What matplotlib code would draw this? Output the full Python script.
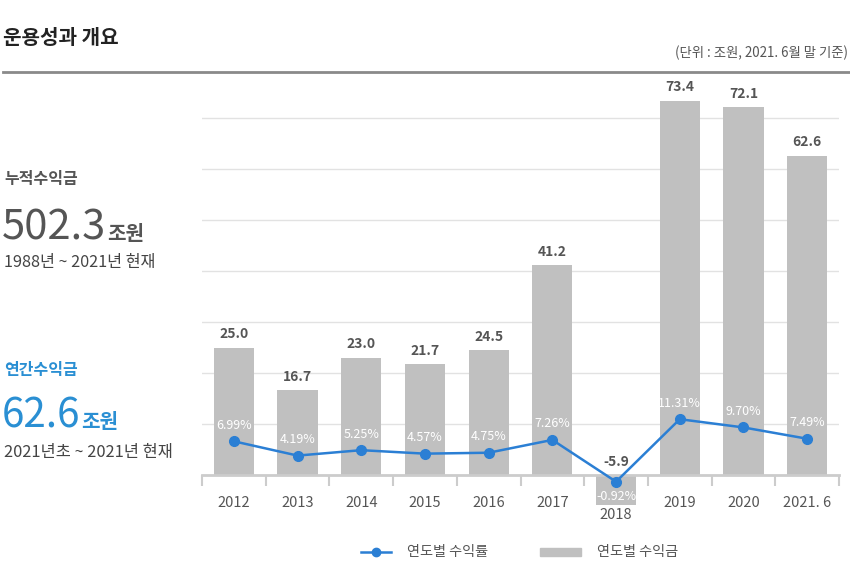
import matplotlib
matplotlib.use('Agg')
import matplotlib.pyplot as plt
from matplotlib.lines import Line2D
from matplotlib.patches import Rectangle
import numpy as np

plt.rcParams['font.family'] = ['Noto Sans CJK KR', 'DejaVu Sans']

years = ['2012', '2013', '2014', '2015', '2016', '2017', '2018', '2019', '2020', '2021. 6']
profits = [25.0, 16.7, 23.0, 21.7, 24.5, 41.2, -5.9, 73.4, 72.1, 62.6]
rates = [6.99, 4.19, 5.25, 4.57, 4.75, 7.26, -0.92, 11.31, 9.70, 7.49]
profit_labels = ['25.0', '16.7', '23.0', '21.7', '24.5', '41.2', '-5.9', '73.4', '72.1', '62.6']
rate_labels = ['6.99%', '4.19%', '5.25%', '4.57%', '4.75%', '7.26%', '-0.92%', '11.31%', '9.70%', '7.49%']

W, H = 850, 579
fig = plt.figure(figsize=(W / 100, H / 100), dpi=100)
fig.patch.set_facecolor('white')


def fx(px):
    return px / W


def fy(py):
    return 1 - py / H


BLUE = '#2b7fd4'
BLUE_TXT = '#2a8fd3'
GRAY_TXT = '#555555'

# ---- main axes ----
ax = fig.add_axes([fx(202), fy(510), (839 - 202) / W, (510 - 80) / H])
x = np.arange(len(years))
ax.bar(x, profits, width=0.63, color='#c0c0c0', zorder=2)
ax.set_xlim(-0.5, len(years) - 0.5)
ax.set_ylim(-(510 - 475) / 5.1, (475 - 80) / 5.1)

# ---- rate line on twin axis ----
ax2 = ax.twinx()
ax2.set_ylim(-(510 - 477) / 5.11, (477 - 80) / 5.11)
ax2.axis('off')

for s in ['top', 'right', 'left']:
    ax.spines[s].set_visible(False)
ax.spines['bottom'].set_position(('data', 0))
ax.spines['bottom'].set_color('#cccccc')
ax.spines['bottom'].set_linewidth(2)
ax.set_yticks(np.arange(10, 80, 10))
ax.yaxis.grid(True, color='#e2e2e2', lw=1)
ax.set_axisbelow(True)
ax.tick_params(axis='y', which='both', left=False, right=False, labelleft=False, labelright=False)
ax.set_xticks(x)
ax.tick_params(axis='x', which='major', length=0, labelbottom=False)
ax.set_xticks(np.arange(-0.5, len(years)), minor=True)
ax.tick_params(axis='x', which='minor', length=8, width=1.5, color='#cccccc', direction='out')

for xi, v, lab in zip(x, profits, profit_labels):
    ax.annotate(lab, (xi, max(v, 0)), xytext=(0, 4.5), textcoords='offset points',
                ha='center', va='bottom', fontsize=10, fontweight='bold', color=GRAY_TXT)

for xi, lab, v in zip(x, years, profits):
    off = -29 if v < 0 else -20.5
    ax.annotate(lab, (xi, 0), xytext=(0, off), textcoords='offset points',
                ha='center', va='center', fontsize=10.5, fontweight='medium', color=GRAY_TXT)

ax2.plot(x, rates, color=BLUE, lw=1.8, marker='o', ms=7, zorder=3)
for xi, r, lab in zip(x, rates, rate_labels):
    off = -11 if r < 0 else 11.5
    ax2.annotate(lab, (xi, r), xytext=(0, off), textcoords='offset points',
                 ha='center', va='center', fontsize=9, color='white')

# ---- header ----
fig.text(fx(3), fy(38), '운용성과 개요', fontsize=14.5, fontweight='bold', color='#222222',
         ha='left', va='center')
fig.text(fx(848), fy(53), '(단위 : 조원, 2021. 6월 말 기준)', fontsize=9.6, color=GRAY_TXT,
         ha='right', va='center')
fig.add_artist(Line2D([fx(3), fx(850)], [fy(72), fy(72)], color='#8a8a8a', lw=2))

# ---- left summary ----
renderer = fig.canvas.get_renderer()


def big_number(xpx, ybase, num, unit, color, size):
    t = fig.text(fx(xpx), fy(ybase), num, fontsize=size, color=color, ha='left', va='baseline')
    bb = t.get_window_extent(renderer=renderer)
    fig.text(bb.x1 / W + 1 / W, fy(ybase), unit, fontsize=14.5, fontweight='bold', color=color,
             ha='left', va='baseline')


fig.text(fx(4), fy(179), '누적수익금', fontsize=11.5, fontweight='bold', color=GRAY_TXT, ha='left', va='center')
big_number(2, 240, '502.3', '조원', GRAY_TXT, 30)
fig.text(fx(4), fy(262), '1988년 ~ 2021년 현재', fontsize=11.7, color='#444444', ha='left', va='center')

fig.text(fx(4), fy(370), '연간수익금', fontsize=11.5, fontweight='bold', color=BLUE_TXT, ha='left', va='center')
big_number(2, 428, '62.6', '조원', BLUE_TXT, 29)
fig.text(fx(4), fy(452), '2021년초 ~ 2021년 현재', fontsize=11.8, color='#444444', ha='left', va='center')

# ---- legend ----
fig.add_artist(Line2D([fx(361), fx(391)], [fy(552), fy(552)], color=BLUE, lw=1.8))
fig.add_artist(Line2D([fx(376)], [fy(552)], color=BLUE, marker='o', ms=6, lw=0))
fig.text(fx(407), fy(552), '연도별 수익률', fontsize=10.2, color=GRAY_TXT, ha='left', va='center')
fig.add_artist(Rectangle((fx(540), fy(556)), 41 / W, 8 / H, color='#c0c0c0', transform=fig.transFigure))
fig.text(fx(597), fy(552), '연도별 수익금', fontsize=10.2, color=GRAY_TXT, ha='left', va='center')

fig.savefig('out.png', dpi=100, facecolor='white')
